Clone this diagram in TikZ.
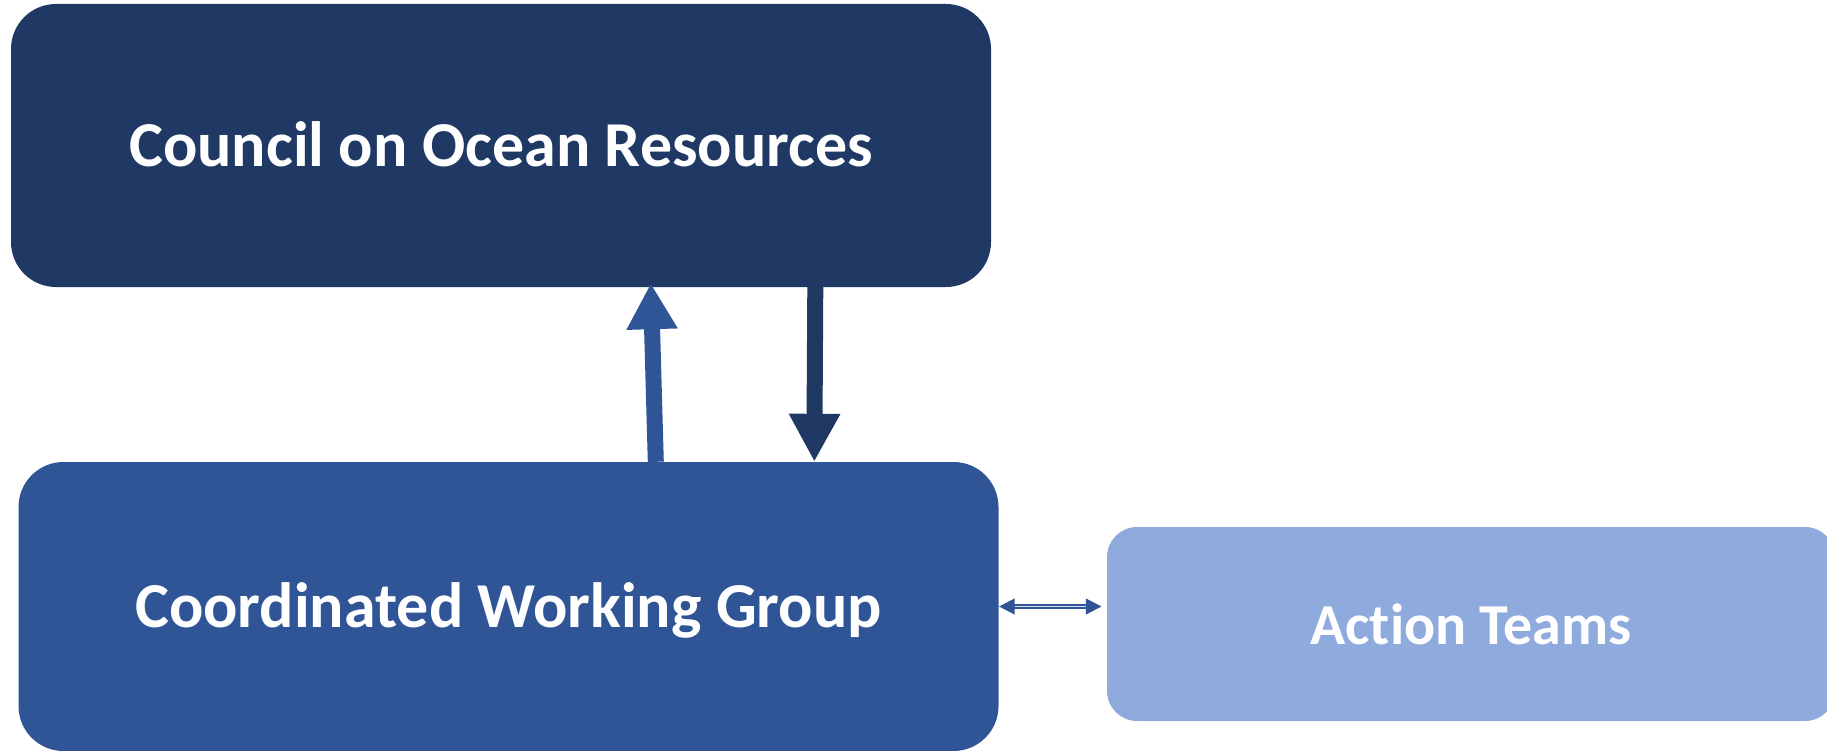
\documentclass[tikz,border=0pt]{standalone}
\usepackage{fontspec}
\setmainfont{Carlito}[Ligatures={NoCommon,NoContextual}]
\usetikzlibrary{arrows.meta}
\definecolor{darkblue}{HTML}{203864}
\definecolor{midblue}{HTML}{2F5597}
\definecolor{lightblue}{HTML}{8FAADC}
\tikzset{
  box/.style={rounded corners=#1, inner sep=0pt, text=white,
    font=\fontsize{64}{77}\selectfont\bfseries, text height=41.2pt, text depth=0pt},
  bigarrow/.style={line width=16pt},
}
\begin{document}
\begin{tikzpicture}[x=1pt,y=-1pt]
\useasboundingbox (0,0) rectangle (1827,751);
\node[box=45pt, fill=darkblue, minimum width=980pt, minimum height=283pt] (council) at (501,145.5) {Council on Ocean Resources};
\node[box=45pt, fill=midblue, minimum width=980pt, minimum height=289pt] (cwg) at (508.5,606.5) {Coordinated Working Group};
\node[box=30pt, fill=lightblue, minimum width=728pt, minimum height=194pt, font=\fontsize{58}{70}\selectfont\bfseries, text height=41pt] (action) at (1471,624) {Action Teams};
% up arrow
\draw[bigarrow, midblue, -{Triangle[width=48pt,length=46pt]}]
  ([xshift=637.5pt]cwg.north west) -- ([xshift=640pt,yshift=4pt]council.south west);
% down arrow
\draw[bigarrow, darkblue, -{Triangle[width=48pt,length=48pt]}]
  ([xshift=804.5pt]council.south west) -- ([xshift=796pt]cwg.north west);
% double arrow
\draw[midblue, line width=5pt, {Triangle[width=15pt,length=16pt]}-{Triangle[width=15pt,length=16pt]}, shorten >=5pt]
  (cwg.east) -- (cwg.east -| action.west);
\draw[lightblue!40!white, line width=1.2pt, shorten <=16pt, shorten >=21pt]
  (cwg.east) -- (cwg.east -| action.west);
\end{tikzpicture}
\end{document}
